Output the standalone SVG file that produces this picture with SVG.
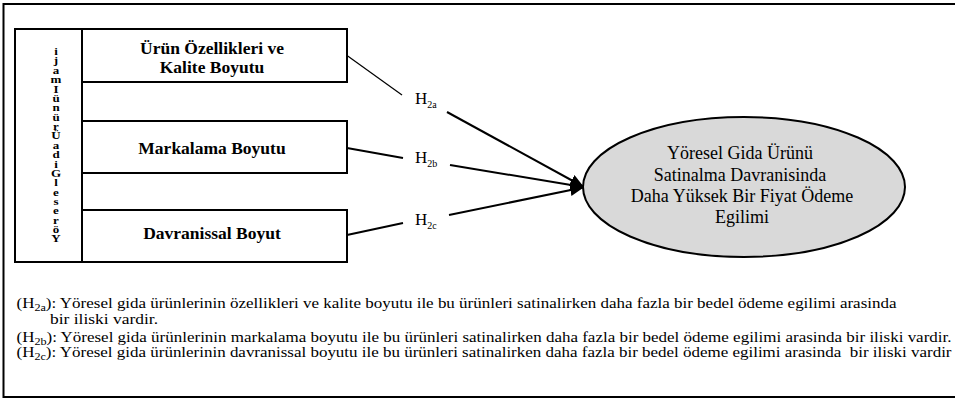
<svg xmlns="http://www.w3.org/2000/svg" width="955" height="399" viewBox="0 0 955 399">
  <style>
    .frame { fill: none; stroke: #000; stroke-width: 2; }
    .box { fill: #fff; stroke: #000; stroke-width: 2; }
    .bold { font-family: "Liberation Serif", "Times New Roman", serif; font-weight: bold; font-size: 17.5px; fill: #000; text-anchor: middle; }
    .stack { font-family: "Liberation Serif", "Times New Roman", serif; font-weight: bold; font-size: 13px; fill: #000; writing-mode: vertical-rl; text-orientation: upright; letter-spacing: -4px; }
    .oval { font-family: "Liberation Serif", "Times New Roman", serif; font-size: 18px; fill: #000; text-anchor: middle; }
    .hlab { font-family: "Liberation Serif", "Times New Roman", serif; font-size: 17px; fill: #000; }
    .note { font-family: "Liberation Serif", "Times New Roman", serif; font-size: 14px; fill: #000; }
    .sub { font-size: 10px; }
    .conn { fill: none; stroke: #000; stroke-width: 2; }
    .thin { stroke-width: 1.2; }
  </style>
  <defs>
    <marker id="arrow" markerUnits="userSpaceOnUse" markerWidth="14" markerHeight="12" viewBox="0 0 14 12" refX="13" refY="6" orient="auto">
      <path d="M0,0 L14,6 L0,12 Z" fill="#000"/>
    </marker>
  </defs>

  <!-- outer frame: top, left and bottom edges -->
  <path class="frame" d="M955,4 H3.5 V397 H955"/>

  <!-- left label column with letters stacked bottom-up -->
  <g id="imaj">
    <rect class="box" x="15" y="29" width="67" height="233"/>
    <g transform="translate(56,45) scale(1,0.84)">
      <text class="stack" x="0" y="0">ijamIünürÜadiGleseröY</text>
    </g>
  </g>

  <g id="urun">
    <rect class="box" x="82" y="29" width="265" height="53"/>
    <text class="bold" x="212" y="54">Ürün Özellikleri ve</text>
    <text class="bold" x="212" y="73">Kalite Boyutu</text>
  </g>

  <g id="marka">
    <rect class="box" x="82" y="121" width="265" height="52"/>
    <text class="bold" x="212" y="154">Markalama Boyutu</text>
  </g>

  <g id="davranis">
    <rect class="box" x="82" y="210" width="265" height="52"/>
    <text class="bold" x="212" y="239">Davranissal Boyut</text>
  </g>

  <g id="egilim">
    <ellipse cx="744" cy="187" rx="161" ry="70" fill="#d9d9d9" stroke="#000" stroke-width="2"/>
    <text class="oval" x="740" y="159">Yöresel Gida Ürünü</text>
    <text class="oval" x="740" y="181">Satinalma Davranisinda</text>
    <text class="oval" x="742" y="202">Daha Yüksek Bir Fiyat Ödeme</text>
    <text class="oval" x="742" y="223">Egilimi</text>
  </g>

  <!-- hypothesis paths -->
  <g id="connectors">
    <line class="conn thin" x1="347" y1="55.5" x2="402" y2="95"/>
    <line class="conn" x1="447" y1="112" x2="583" y2="186.5" marker-end="url(#arrow)"/>
    <line class="conn" x1="347" y1="148" x2="403" y2="158"/>
    <line class="conn" x1="450" y1="165" x2="583" y2="187" marker-end="url(#arrow)"/>
    <line class="conn" x1="347" y1="235" x2="403" y2="223"/>
    <line class="conn" x1="449" y1="215" x2="583" y2="187.5" marker-end="url(#arrow)"/>
    <text class="hlab" x="415" y="104">H<tspan class="sub" dy="4">2a</tspan></text>
    <text class="hlab" x="415" y="163">H<tspan class="sub" dy="4">2b</tspan></text>
    <text class="hlab" x="415" y="225">H<tspan class="sub" dy="4">2c</tspan></text>
  </g>

  <!-- hypothesis statements -->
  <g id="notes">
    <text class="note" x="16.5" y="308" textLength="880" lengthAdjust="spacingAndGlyphs">(H<tspan class="sub" dy="3">2a</tspan><tspan dy="-3">): Yöresel gida ürünlerinin özellikleri ve kalite boyutu ile bu ürünleri satinalirken daha fazla bir bedel ödeme egilimi arasinda</tspan></text>
    <text class="note" x="50" y="324" textLength="108" lengthAdjust="spacingAndGlyphs">bir iliski vardir.</text>
    <text class="note" x="16.5" y="342" textLength="935" lengthAdjust="spacingAndGlyphs">(H<tspan class="sub" dy="3">2b</tspan><tspan dy="-3">): Yöresel gida ürünlerinin markalama boyutu ile bu ürünleri satinalirken daha fazla bir bedel ödeme egilimi arasinda bir iliski vardir.</tspan></text>
    <text class="note" x="16.5" y="357" textLength="935" lengthAdjust="spacingAndGlyphs" xml:space="preserve">(H<tspan class="sub" dy="3">2c</tspan><tspan dy="-3">): Yöresel gida ürünlerinin davranissal boyutu ile bu ürünleri satinalirken daha fazla bir bedel ödeme egilimi arasinda  bir iliski vardir</tspan></text>
  </g>
</svg>
